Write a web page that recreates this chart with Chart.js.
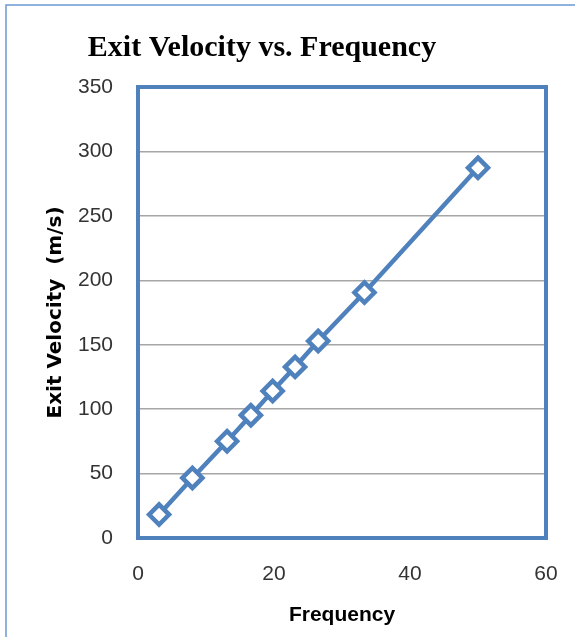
<!DOCTYPE html>
<html>
<head>
<meta charset="utf-8">
<script src="https://cdn.jsdelivr.net/npm/chart.js@4.4.1/dist/chart.umd.min.js"></script>
<style>
  html, body { margin: 0; padding: 0; background: #fff; }
  #wrap { width: 575px; height: 637px; position: relative; }
</style>
</head>
<body>
<div id="wrap"><canvas id="velChart"></canvas></div>
<script>
// measured runs: frequency vs exit velocity
const frequency = [3.1, 8.0, 13.1, 16.6, 19.8, 23.1, 26.5, 33.3, 50.0];
const exitVelocity = [18.2, 46.6, 75.1, 95.3, 114.1, 132.8, 152.9, 190.5, 287.3];
const xTicks = [0, 20, 40, 60];
const yTicks = [0, 50, 100, 150, 200, 250, 300, 350];

const blue = '#4f81bd';

// title sits a little left of the page centre
const titleShift = {
    id: 'titleShift',
    afterLayout(chart) {
        chart.titleBlock.left = 0;
        chart.titleBlock.right = 524;
    }
};

// thick box around the plot area plus the thin page frame
const frames = {
    id: 'frames',
    afterDraw(chart) {
        const ctx = chart.ctx;
        const a = chart.chartArea;
        ctx.save();
        ctx.strokeStyle = '#6a98d2';
        ctx.lineWidth = 1.5;
        ctx.beginPath();
        ctx.moveTo(6, chart.height);
        ctx.lineTo(6, 5);
        ctx.lineTo(chart.width, 5);
        ctx.stroke();
        ctx.strokeStyle = blue;
        ctx.lineWidth = 4;
        ctx.strokeRect(a.left, a.top, a.right - a.left, a.bottom - a.top);
        ctx.restore();
    }
};

new Chart(document.getElementById('velChart'), {
    type: 'scatter',
    data: {
        datasets: [{
            data: frequency.map((f, i) => ({ x: f, y: exitVelocity[i] })),
            showLine: true,
            borderColor: blue,
            borderWidth: 4.5,
            pointStyle: 'rectRot',
            pointRadius: 10,
            pointBorderWidth: 4.5,
            pointBackgroundColor: '#ffffff',
            pointBorderColor: blue,
            tension: 0
        }]
    },
    options: {
        responsive: true,
        maintainAspectRatio: false,
        animation: false,
        layout: { padding: 0 },
        plugins: {
            legend: { display: false },
            tooltip: { enabled: false },
            title: {
                display: true,
                text: 'Exit Velocity vs. Frequency',
                color: '#000',
                font: { family: '"Liberation Serif", "Times New Roman", serif', size: 30, weight: 'bold' },
                padding: { top: 30, bottom: 21 }
            }
        },
        scales: {
            x: {
                type: 'linear',
                min: 0,
                max: 60,
                afterBuildTicks: s => { s.ticks = xTicks.map(v => ({ value: v })); },
                afterFit: s => {
                    s.height = 99;
                    s.paddingLeft = 0;
                    s.paddingRight = 29;
                },
                grid: { display: false, drawTicks: false },
                border: { display: false },
                ticks: {
                    padding: 24,
                    color: '#333',
                    font: { family: '"Liberation Sans", Arial, sans-serif', size: 21 }
                },
                title: {
                    display: true,
                    text: 'Frequency',
                    color: '#000',
                    font: { family: '"Liberation Sans", Arial, sans-serif', size: 21, weight: 'bold' },
                    padding: { top: 0, bottom: 9 }
                }
            },
            y: {
                type: 'linear',
                min: 0,
                max: 350,
                afterBuildTicks: s => { s.ticks = yTicks.map(v => ({ value: v })); },
                afterFit: s => { s.width = 138; },
                grid: { color: '#a6a6a6', lineWidth: 1.5, drawTicks: false },
                border: { display: false },
                ticks: {
                    padding: 25,
                    color: '#333',
                    font: { family: '"Liberation Sans", Arial, sans-serif', size: 21 }
                },
                title: {
                    display: true,
                    text: 'Exit Velocity  (m/s)',
                    color: '#000',
                    font: { family: '"DejaVu Sans", sans-serif', size: 20, weight: 'bold' },
                    padding: { top: 44, bottom: 0 }
                }
            }
        }
    },
    plugins: [titleShift, frames]
});
</script>
</body>
</html>
